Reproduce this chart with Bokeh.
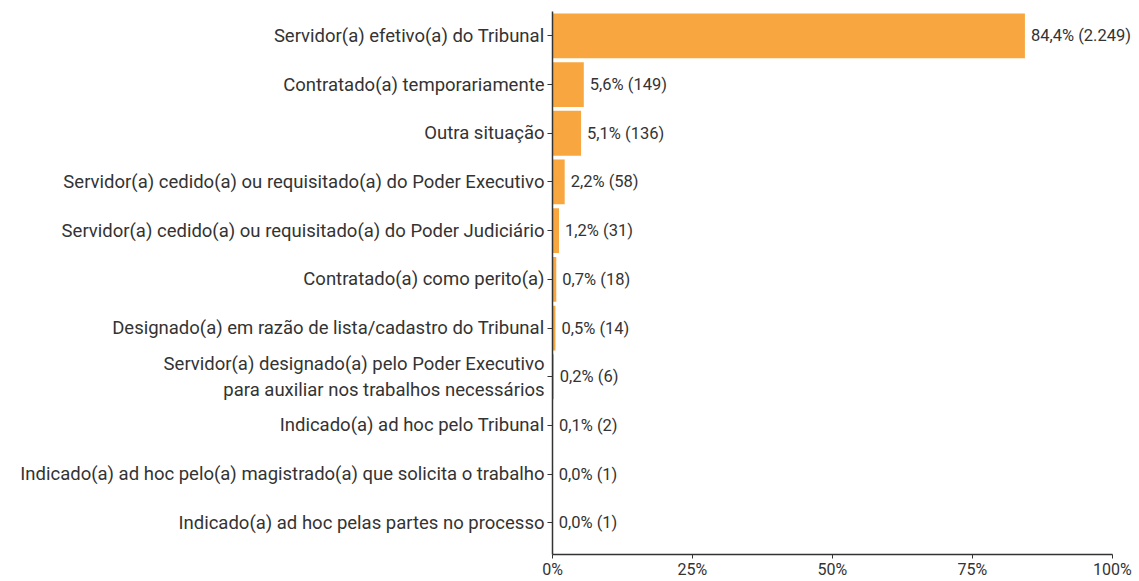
from bokeh.plotting import figure
from bokeh.models import Range1d, FixedTicker, ColumnDataSource
from bokeh.core.properties import value
from bokeh.embed import file_html
from bokeh.resources import INLINE

categories = [
    "Servidor(a) efetivo(a) do Tribunal",
    "Contratado(a) temporariamente",
    "Outra situação",
    "Servidor(a) cedido(a) ou requisitado(a) do Poder Executivo",
    "Servidor(a) cedido(a) ou requisitado(a) do Poder Judiciário",
    "Contratado(a) como perito(a)",
    "Designado(a) em razão de lista/cadastro do Tribunal",
    "Servidor(a) designado(a) pelo Poder Executivo\npara auxiliar nos trabalhos necessários",
    "Indicado(a) ad hoc pelo Tribunal",
    "Indicado(a) ad hoc pelo(a) magistrado(a) que solicita o trabalho",
    "Indicado(a) ad hoc pelas partes no processo",
]
counts = [2249, 149, 136, 58, 31, 18, 14, 6, 2, 1, 1]
x_ticks = [0, 25, 50, 75, 100]
x_tick_labels = ["0%", "25%", "50%", "75%", "100%"]

FONT = "Roboto"
BAR = "#F8A63F"
TXT = "#333333"

total = sum(counts)
pcts = [c / total * 100 for c in counts]
ypos = list(range(len(categories)))


def fmt_count(c):
    return f"{c:,}".replace(",", ".")


labels = [f"{p:.1f}".replace(".", ",") + f"% ({fmt_count(c)})" for p, c in zip(pcts, counts)]

src = ColumnDataSource(dict(y=ypos, pct=pcts, lab=labels))

p = figure(width=1137, height=581, output_backend="svg", toolbar_location=None,
           x_range=Range1d(0, 104.5), y_range=Range1d(10.65, -0.5),
           min_border_left=552, min_border_right=0, min_border_top=11, min_border_bottom=23)

p.hbar(y="y", left=0, right="pct", height=0.92, source=src, color=BAR, line_color=None)
p.text(x="pct", y="y", text="lab", source=src, x_offset=6, text_align="left",
       text_baseline="middle", text_font=value(FONT), text_font_size="16.5px", text_color=TXT)

p.xgrid.visible = False
p.ygrid.visible = False
p.outline_line_color = None

xa = p.xaxis[0]
xa.ticker = FixedTicker(ticks=x_ticks)
xa.bounds = (0, 100)
xa.major_label_overrides = {t: l for t, l in zip(x_ticks, x_tick_labels)}
xa.minor_tick_line_color = None
xa.major_tick_in = 0
xa.major_tick_out = 4
xa.major_label_standoff = 1
xa.axis_line_color = TXT
xa.axis_line_width = 1.5
xa.major_tick_line_color = TXT
xa.major_label_text_font = FONT
xa.major_label_text_font_size = "16px"
xa.major_label_text_color = TXT

ya = p.yaxis[0]
ya.ticker = FixedTicker(ticks=ypos)
ya.major_label_overrides = {i: c for i, c in zip(ypos, categories)}
ya.minor_tick_line_color = None
ya.major_tick_in = 0
ya.major_tick_out = 5
ya.major_label_standoff = 3
ya.axis_line_color = TXT
ya.axis_line_width = 1.5
ya.major_tick_line_color = TXT
ya.major_label_text_font = FONT
ya.major_label_text_font_size = "18.5px"
ya.major_label_text_color = TXT

open("out.html", "w").write(file_html(p, INLINE))
